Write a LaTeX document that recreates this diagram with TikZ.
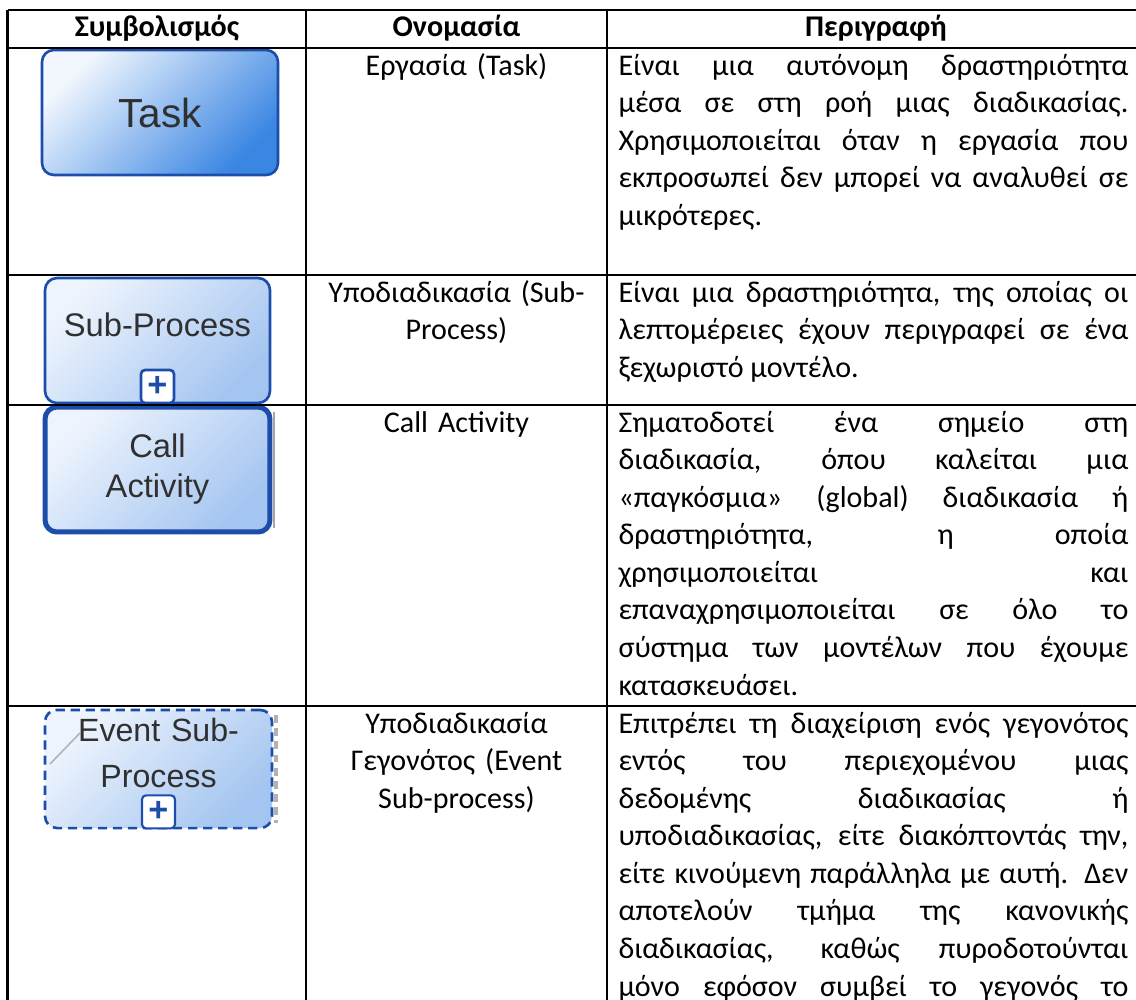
\documentclass[tikz,border=0pt]{standalone}
\usepackage{fontspec}
\setmainfont{Carlito}
\newfontfamily\iconfont{Liberation Sans}
\usetikzlibrary{shapes,arrows,positioning}
\hyphenpenalty=10000
\tolerance=10000
\AtBeginDocument{\fontsize{11.4pt}{14.26pt}\selectfont}
\definecolor{bpmnline}{HTML}{1D4DAA}
\definecolor{taskpale}{HTML}{F2F7FE}
\definecolor{taskdeep}{HTML}{3A86E3}
\definecolor{subpale}{HTML}{EEF4FD}
\definecolor{subdeep}{HTML}{A4C5F0}
\definecolor{icongray}{HTML}{303030}
\newcommand{\fullline}[1]{\makebox[\linewidth][s]{#1}\par}
\newcommand{\tasksize}{\iconfont\fontsize{15.4pt}{18pt}\selectfont}
\newcommand{\iconsize}{\iconfont\fontsize{12.4pt}{15.2pt}\selectfont}
\tikzstyle{tablerule} = [draw, line width=0.8pt]
\tikzstyle{headcell} = [font=\bfseries, anchor=base, inner sep=0pt]
\tikzstyle{namecell} = [text width=110pt, align=center, anchor=base, inner sep=0pt]
\tikzstyle{desccell} = [text width=193.4pt, align=justify, anchor=base west, inner sep=0pt]
\tikzstyle{symbol} = [draw=bpmnline, line width=1pt, rounded corners=4.5pt, text=icongray, font=\iconsize, align=center, minimum width=85.3pt, minimum height=47.4pt, left color=subpale, right color=subdeep, shading angle=45]
\tikzstyle{iconlabel} = [text=icongray, font=\iconsize, align=center, inner sep=0pt]
\tikzstyle{plusbox} = [draw=bpmnline, fill=white, line width=1pt, rounded corners=1.5pt, minimum size=12.5pt, inner sep=0pt, text=bpmnline, font=\iconfont\bfseries\fontsize{13pt}{13pt}\selectfont]

\begin{document}
\begin{tikzpicture}[x=0.3793pt, y=-0.3793pt]
      \useasboundingbox (0,0) rectangle (1136,999);
      \clip (0,0) rectangle (1136,999);
      % Header
      \node [headcell] (hsym) at (157,36) {Συμβολισμός};
      \node [headcell] (hname) at (456.5,36) {Ονομασία};
      \node [headcell] (hdesc) at (876,36) {Περιγραφή};

      % Symbols
      \node [symbol, left color=taskpale, right color=taskdeep, shading angle=45, minimum width=89.5pt, font=\tasksize] (task) at (160,112.5) {Task};
      \node [symbol] (subproc) at (157.5,340.5) {};
      \node [iconlabel] (subtext) at (157.5,325) {Sub-Process};
      \node [plusbox, anchor=south] (subplus) at (subproc.south) {+};
      \node [symbol, line width=1.9pt] (callact) at (157.5,469.5) {Call\\Activity};
      \draw [gray!70, line width=1pt] (274,412) -- (274,528);
      \node [symbol, dash pattern=on 3.5pt off 2.2pt, minimum width=86.1pt, minimum height=44.8pt] (evsub) at (158.5,769) {};
      \draw [gray!60, line width=0.6pt] (50,764) -- (80,733);
      \draw [gray!60, line width=1.2pt, dash pattern=on 3pt off 2pt] (276,715) -- (276,823);
      \node [iconlabel, text width=86pt, anchor=base, font=\iconfont\fontsize{12.2pt}{17.6pt}\selectfont] (evtext) at (158.5,741) {Event Sub-\\Process};
      \node [plusbox, anchor=south, line width=0.8pt] (evplus) at (evsub.south) {+};

      % Names
      \node [namecell] (ntask) at (456.5,75) {Εργασία (Task)};
      \node [namecell] (nsub) at (456.5,302) {Υποδιαδικασία (Sub-\\Process)};
      \node [namecell] (ncall) at (456.5,432) {Call Activity};
      \node [namecell] (nevent) at (456.5,733) {Υποδιαδικασία\\Γεγονότος (Event\\Sub-process)};

      % Descriptions
      \node [desccell] (dtask) at (618,75) {%
        \fullline{Είναι μια αυτόνομη δραστηριότητα}%
        \fullline{μέσα σε στη ροή μιας διαδικασίας.}%
        \fullline{Χρησιμοποιείται όταν η εργασία που}%
        \fullline{εκπροσωπεί δεν μπορεί να αναλυθεί σε}%
        μικρότερες.};
      \node [desccell] (dsub) at (618,302) {%
        \fullline{Είναι μια δραστηριότητα, της οποίας οι}%
        \fullline{λεπτομέρειες έχουν περιγραφεί σε ένα}%
        ξεχωριστό μοντέλο.};
      \node [desccell] (dcall) at (618,432) {%
        \fullline{Σηματοδοτεί ένα σημείο στη}%
        \fullline{διαδικασία, όπου καλείται μια}%
        \fullline{«παγκόσμια» (global) διαδικασία ή}%
        \fullline{δραστηριότητα, η οποία}%
        \fullline{χρησιμοποιείται και}%
        \fullline{επαναχρησιμοποιείται σε όλο το}%
        \fullline{σύστημα των μοντέλων που έχουμε}%
        κατασκευάσει.};
      \node [desccell] (devent) at (618,733) {%
        \fullline{Επιτρέπει τη διαχείριση ενός γεγονότος}%
        \fullline{εντός του περιεχομένου μιας}%
        \fullline{δεδομένης διαδικασίας ή}%
        \fullline{υποδιαδικασίας, είτε διακόπτοντάς την,}%
        \fullline{είτε κινούμενη παράλληλα με αυτή. Δεν}%
        \fullline{αποτελούν τμήμα της κανονικής}%
        \fullline{διαδικασίας, καθώς πυροδοτούνται}%
        \fullline{μόνο εφόσον συμβεί το γεγονός το}};

      % Table rules
      \foreach \y in {10,48,275,405,706}
        \draw [tablerule] (7.5,\y) -- (1145,\y);
      \foreach \x in {7.5,306,607,1141}
        \draw [tablerule] (\x,10) -- (\x,1005);
\end{tikzpicture}
\end{document}
